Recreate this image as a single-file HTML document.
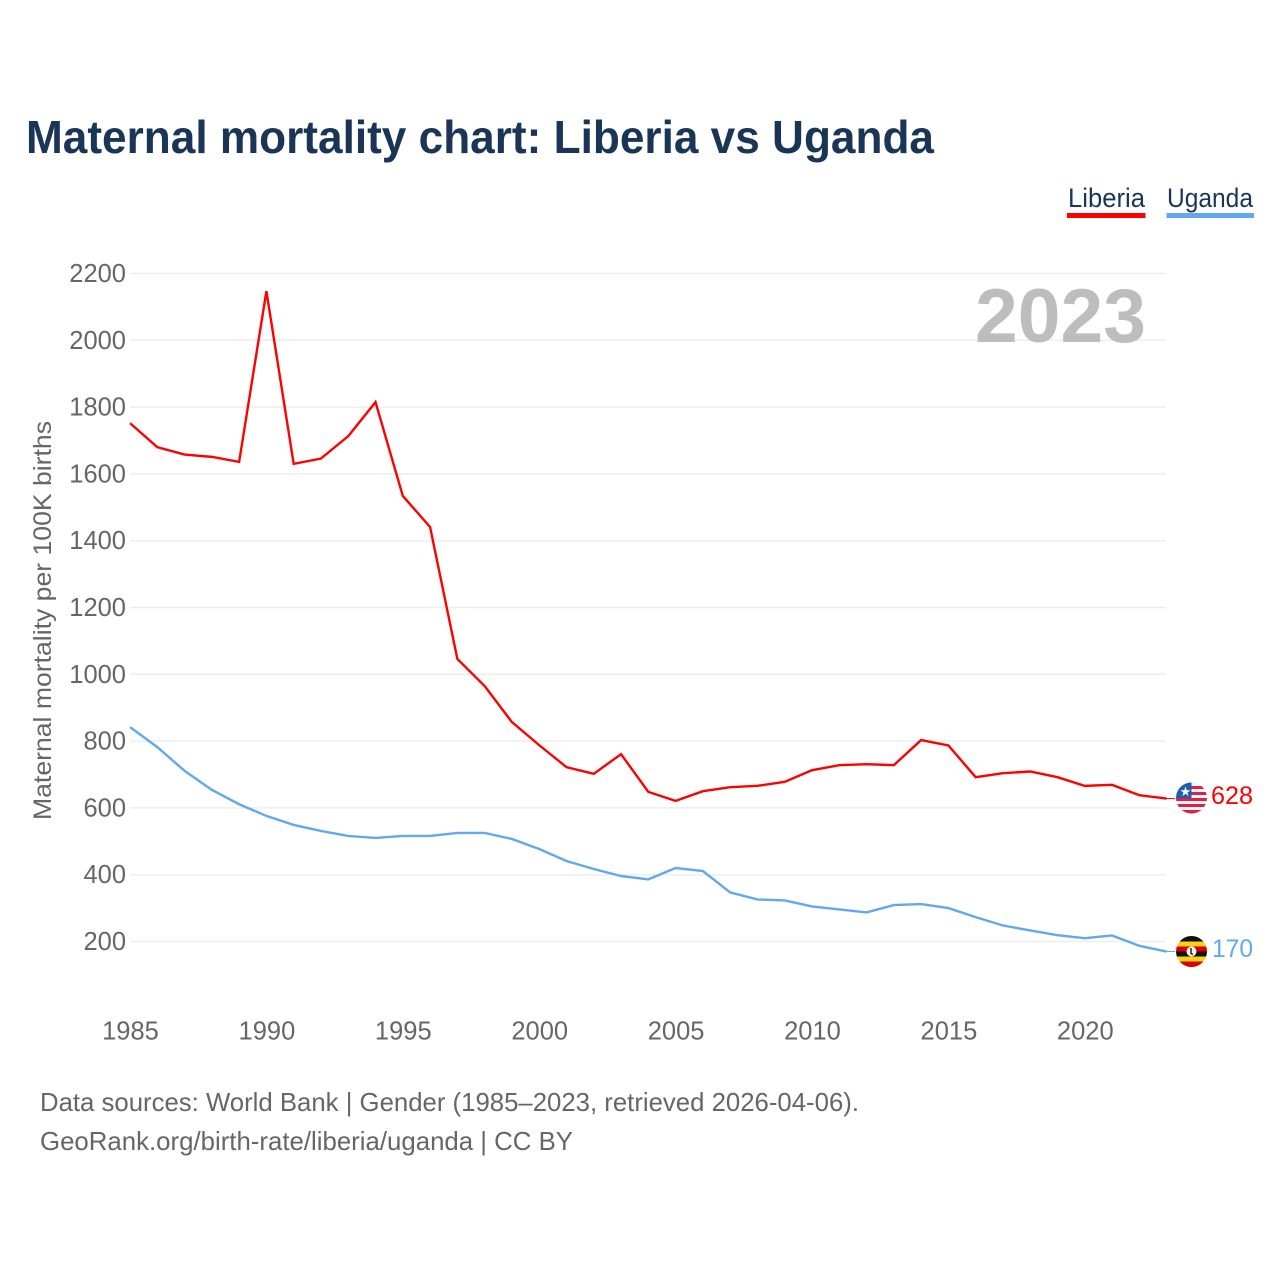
<!DOCTYPE html>
<html lang="en">
<head>
<meta charset="utf-8">
<title>Maternal mortality chart: Liberia vs Uganda</title>
<style>
html,body{margin:0;padding:0;background:#fff;width:1280px;height:1280px;overflow:hidden}
svg{display:block}
text{font-family:"Liberation Sans",sans-serif}
</style>
</head>
<body>
<svg id="chart" xmlns="http://www.w3.org/2000/svg" width="1280" height="1280" viewBox="0 0 1280 1280">
  <defs>
    <clipPath id="liberia-clip"><circle cx="1191.5" cy="798" r="15.5"/></clipPath>
    <clipPath id="uganda-clip"><circle cx="1191.5" cy="951.5" r="15.5"/></clipPath>
  </defs>
  <text x="26" y="153" font-size="46" font-weight="700" fill="#1b3556" textLength="908" lengthAdjust="spacingAndGlyphs">Maternal mortality chart: Liberia vs Uganda</text>

  <g>
    <text x="1068" y="207" font-size="27" fill="#1b3556" textLength="77" lengthAdjust="spacingAndGlyphs">Liberia</text>
    <rect x="1067" y="213" width="78.500" height="5" fill="#ff0000"/>
  </g>
  <g>
    <text x="1167" y="207" font-size="27" fill="#1b3556" textLength="86" lengthAdjust="spacingAndGlyphs">Uganda</text>
    <rect x="1166.500" y="213" width="87.500" height="5" fill="#62a8ee"/>
  </g>

  <g id="grid"></g>
  <g id="y-ticks"></g>
  <g id="x-ticks"></g>

  <text x="1146" y="342" font-size="76" font-weight="700" fill="#bdbdbd" text-anchor="end" textLength="171" lengthAdjust="spacingAndGlyphs">2023</text>

  <text transform="translate(51,820) rotate(-90)" x="0" y="0" font-size="25" fill="#666666" textLength="399" lengthAdjust="spacingAndGlyphs">Maternal mortality per 100K births</text>

  <g id="series"></g>

  <g id="liberia-flag">
    <g clip-path="url(#liberia-clip)">
      <rect x="1176" y="782" width="31" height="32" fill="#f4f4f4"/>
      <rect x="1176" y="786" width="31" height="3" fill="#d8234a"/>
      <rect x="1176" y="792" width="31" height="3" fill="#d8234a"/>
      <rect x="1176" y="798" width="31" height="3" fill="#d8234a"/>
      <rect x="1176" y="804" width="31" height="3" fill="#d8234a"/>
      <rect x="1176" y="810" width="31" height="4" fill="#d8234a"/>
      <rect x="1176" y="782" width="15.500" height="16" fill="#1a5fb4"/>
      <text x="1185.500" y="796" font-size="13" fill="#ffffff" text-anchor="middle">★</text>
    </g>
  </g>
  <g id="uganda-flag">
    <g clip-path="url(#uganda-clip)">
      <rect x="1176" y="936" width="31" height="5.500" fill="#111111"/>
      <rect x="1176" y="941.500" width="31" height="5" fill="#fcd116"/>
      <rect x="1176" y="946.500" width="31" height="5" fill="#d90000"/>
      <rect x="1176" y="951.500" width="31" height="5" fill="#111111"/>
      <rect x="1176" y="956.500" width="31" height="5" fill="#fcd116"/>
      <rect x="1176" y="961.500" width="31" height="6" fill="#d90000"/>
      <circle cx="1191.500" cy="951.500" r="5" fill="#f2f2f2"/>
      <path d="M1191 948v5.500l2 1" stroke="#222222" stroke-width="1.500" fill="none"/>
    </g>
  </g>

  <text x="1253" y="804" font-size="25" fill="#ff0000" text-anchor="end" textLength="42" lengthAdjust="spacingAndGlyphs">628</text>
  <text x="1253" y="957" font-size="25" fill="#62a8ee" text-anchor="end" textLength="41" lengthAdjust="spacingAndGlyphs">170</text>

  <text x="40" y="1111" font-size="26" fill="#666666" textLength="819" lengthAdjust="spacingAndGlyphs">Data sources: World Bank | Gender (1985–2023, retrieved 2026-04-06).</text>
  <text x="40" y="1150" font-size="26" fill="#666666" textLength="533" lengthAdjust="spacingAndGlyphs">GeoRank.org/birth-rate/liberia/uganda | CC BY</text>
</svg>
<script>
const years = [1985,1986,1987,1988,1989,1990,1991,1992,1993,1994,1995,1996,1997,1998,1999,2000,2001,2002,2003,2004,2005,2006,2007,2008,2009,2010,2011,2012,2013,2014,2015,2016,2017,2018,2019,2020,2021,2022,2023];
const liberiaValues = [1752,1680,1658,1651,1636,2147,1630,1646,1713,1815,1534,1441,1046,965,857,788,722,702,761,648,621,650,662,666,678,713,728,731,728,803,787,692,704,709,692,666,669,638,628];
const ugandaValues = [842,782,711,654,611,576,549,531,516,510,516,516,525,525,507,477,441,417,396,386,420,411,347,326,323,305,296,287,309,312,300,273,248,233,219,210,218,187,170];
const yTickLabels = [200,400,600,800,1000,1200,1400,1600,1800,2000,2200];
const xTickLabels = [1985,1990,1995,2000,2005,2010,2015,2020];

const NS = 'http://www.w3.org/2000/svg';
function xScale(year) { return 130 + (year - 1985) * 27.28; }
function yScale(value) { return 941.5 - (value - 200) * 0.334; }
function make(tag, parentId) {
  const el = document.createElementNS(NS, tag);
  document.getElementById(parentId).appendChild(el);
  return el;
}
yTickLabels.forEach(function (tick) {
  const line = make('line', 'grid');
  
  
  line.setAttribute('x1', 130);
  line.setAttribute('x2', 1166);
  line.setAttribute('y1', yScale(tick));
  line.setAttribute('y2', yScale(tick));
  line.setAttribute('stroke', '#eeeeee');
  line.setAttribute('stroke-width', 1.5);
  const label = make('text', 'y-ticks');
  
  
  label.setAttribute('x', 126);
  label.setAttribute('y', yScale(tick) + 8.5);
  label.setAttribute('text-anchor', 'end');
  label.setAttribute('font-size', 25.5);
  label.setAttribute('fill', '#666666');
  label.textContent = tick;
});
xTickLabels.forEach(function (tick) {
  const label = make('text', 'x-ticks');
  
  
  label.setAttribute('x', xScale(tick) + 0.5);
  label.setAttribute('y', 1039.5);
  label.setAttribute('text-anchor', 'middle');
  label.setAttribute('font-size', 25.5);
  label.setAttribute('fill', '#666666');
  label.textContent = tick;
});
function linePoints(values) {
  return values.map(function (v, i) { return xScale(years[i]).toFixed(2) + ',' + yScale(v).toFixed(2); }).join(' ');
}
const liberiaLine = make('polyline', 'series');


liberiaLine.setAttribute('points', linePoints(liberiaValues));
liberiaLine.setAttribute('fill', 'none');
liberiaLine.setAttribute('stroke', '#ff0000');
liberiaLine.setAttribute('stroke-width', 2.4);
const ugandaLine = make('polyline', 'series');


ugandaLine.setAttribute('points', linePoints(ugandaValues));
ugandaLine.setAttribute('fill', 'none');
ugandaLine.setAttribute('stroke', '#62a8ee');
ugandaLine.setAttribute('stroke-width', 2.4);
const liberiaLeader = make('line', 'series');


liberiaLeader.setAttribute('x1', xScale(2023));
liberiaLeader.setAttribute('x2', 1175);
liberiaLeader.setAttribute('y1', yScale(liberiaValues[liberiaValues.length - 1]));
liberiaLeader.setAttribute('y2', yScale(liberiaValues[liberiaValues.length - 1]));
liberiaLeader.setAttribute('stroke', '#ff0000');
liberiaLeader.setAttribute('stroke-width', 1);
const ugandaLeader = make('line', 'series');


ugandaLeader.setAttribute('x1', xScale(2023));
ugandaLeader.setAttribute('x2', 1175);
ugandaLeader.setAttribute('y1', yScale(ugandaValues[ugandaValues.length - 1]));
ugandaLeader.setAttribute('y2', yScale(ugandaValues[ugandaValues.length - 1]));
ugandaLeader.setAttribute('stroke', '#62a8ee');
ugandaLeader.setAttribute('stroke-width', 1);
</script>
</body>
</html>
